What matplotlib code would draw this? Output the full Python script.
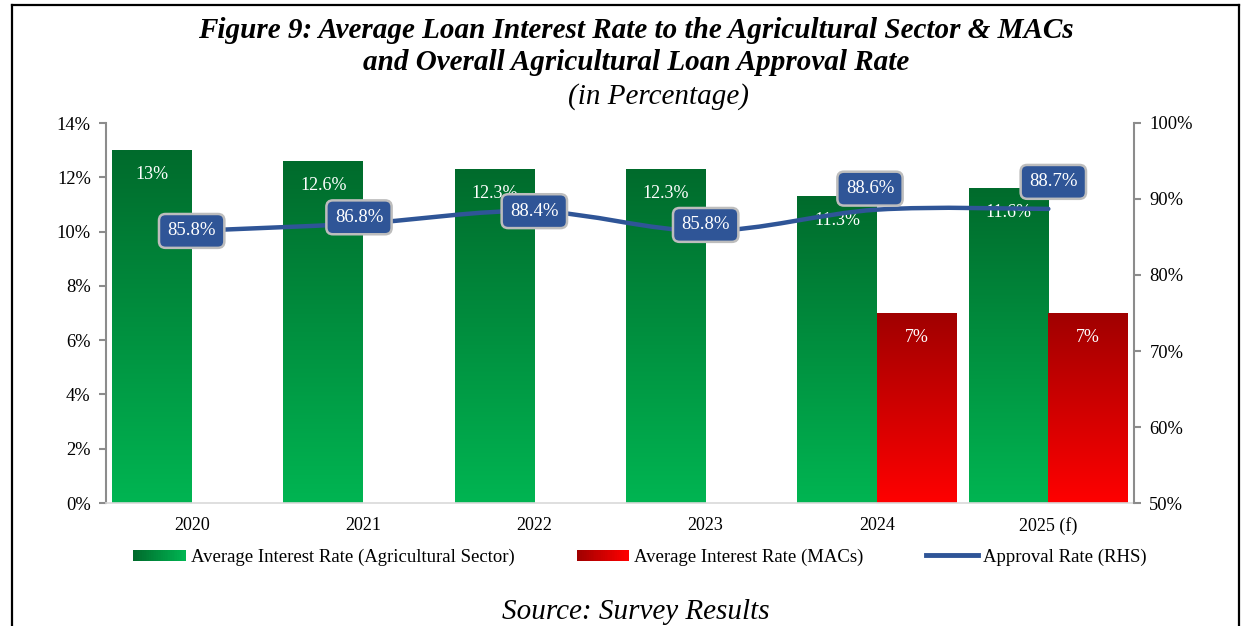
import numpy as np
import matplotlib
matplotlib.use("Agg")
import matplotlib.pyplot as plt
from matplotlib.path import Path
from matplotlib.patches import PathPatch, Rectangle
from matplotlib.lines import Line2D
from matplotlib.legend_handler import HandlerBase
from matplotlib.colors import LinearSegmentedColormap
import matplotlib.ticker as mticker

# ---------------- data ----------------
categories = ["2020", "2021", "2022", "2023", "2024", "2025 (f)"]
agri_rate = [13.0, 12.6, 12.3, 12.3, 11.3, 11.6]
agri_labels = ["13%", "12.6%", "12.3%", "12.3%", "11.3%", "11.6%"]
macs_rate = [None, None, None, None, 7.0, 7.0]
macs_labels = [None, None, None, None, "7%", "7%"]
approval = [85.8, 86.8, 88.4, 85.8, 88.6, 88.7]
approval_labels = ["85.8%", "86.8%", "88.4%", "85.8%", "88.6%", "88.7%"]

left_ticks = [0, 2, 4, 6, 8, 10, 12, 14]
right_ticks = [50, 60, 70, 80, 90, 100]

# ---------------- style ----------------
FONT = "Liberation Serif"
plt.rcParams["font.family"] = FONT
GREEN_TOP, GREEN_BOT = "#006B2C", "#00B552"
RED_TOP, RED_BOT = "#A00000", "#FF0000"
BLUE = "#2F5597"
GRAY = "#8C8C8C"

green_cmap = LinearSegmentedColormap.from_list("g", [GREEN_BOT, GREEN_TOP])
red_cmap = LinearSegmentedColormap.from_list("r", [RED_BOT, RED_TOP])

fig = plt.figure(figsize=(12.5, 6.26), dpi=100)
ax = fig.add_axes([106 / 1250, 1 - 503 / 626, (1134 - 106) / 1250, (503 - 123) / 626])
ax2 = ax.twinx()

x = np.arange(len(categories))
w = 0.465
ax.set_xlim(-0.5, len(categories) - 0.5)
ax.set_ylim(0, 14)
ax2.set_ylim(50, 100)

grad = np.linspace(0, 1, 256).reshape(-1, 1)


def gradient_bar(xc, h, cmap):
    rect = Rectangle((xc - w / 2, 0), w, h, facecolor="none", edgecolor="none")
    ax.add_patch(rect)
    ax.imshow(grad, cmap=cmap, extent=[xc - w / 2, xc + w / 2, 0, h],
              origin="lower", aspect="auto", zorder=1, interpolation="bilinear")


for i, v in enumerate(agri_rate):
    xc = x[i] - w / 2
    gradient_bar(xc, v, green_cmap)
    ax.annotate(agri_labels[i], (xc, v), xytext=(0, -24), textcoords="offset pixels",
                ha="center", va="center", color="white", fontsize=13, zorder=3)

for i, v in enumerate(macs_rate):
    if v is None:
        continue
    xc = x[i] + w / 2
    gradient_bar(xc, v, red_cmap)
    ax.annotate(macs_labels[i], (xc, v), xytext=(0, -24), textcoords="offset pixels",
                ha="center", va="center", color="white", fontsize=13, zorder=3)

ax.set_xlim(-0.5, len(categories) - 0.5)
ax.set_ylim(0, 14)

# smoothed line (Bezier, Catmull-Rom style control points in data space of ax2)
pts = np.column_stack([x, approval]).astype(float)
verts = [tuple(pts[0])]
codes = [Path.MOVETO]
n = len(pts)
for i in range(n - 1):
    p0 = pts[i - 1] if i > 0 else pts[i]
    p1 = pts[i]
    p2 = pts[i + 1]
    p3 = pts[i + 2] if i + 2 < n else pts[i + 1]
    c1 = p1 + (p2 - p0) / 6
    c2 = p2 - (p3 - p1) / 6
    verts += [tuple(c1), tuple(c2), tuple(p2)]
    codes += [Path.CURVE4] * 3
ax2.add_patch(PathPatch(Path(verts, codes), facecolor="none", edgecolor=BLUE,
                        lw=3.2, capstyle="round", zorder=4))

label_dx = [0, -4, 0, 0, -7, 5]
label_dy = [0, 6, 0, 6, 21, 27]
for i, v in enumerate(approval):
    ax2.annotate(approval_labels[i], (x[i], v), xytext=(label_dx[i], label_dy[i]),
                 textcoords="offset pixels", ha="center", va="center", color="white",
                 fontsize=13.5, zorder=6,
                 bbox=dict(boxstyle="round,pad=0.45,rounding_size=0.35", fc=BLUE,
                           ec="#BDBDBD", lw=1.8))

# axes styling
ax.set_xticks(x)
ax.set_xticklabels(categories, fontsize=13)
ax.tick_params(axis="x", length=0, pad=10)
ax.set_yticks(left_ticks)
ax.yaxis.set_major_formatter(mticker.FuncFormatter(lambda v, p: f"{v:.0f}%"))
ax.tick_params(axis="y", labelsize=13.3, color=GRAY, length=5, width=1.5, pad=6)
ax2.set_yticks(right_ticks)
ax2.yaxis.set_major_formatter(mticker.FuncFormatter(lambda v, p: f"{v:.0f}%"))
ax2.tick_params(axis="y", labelsize=13.3, color=GRAY, length=5, width=1.5, pad=6)

for a in (ax, ax2):
    a.spines["top"].set_visible(False)
    a.spines["left"].set_color(GRAY)
    a.spines["right"].set_color(GRAY)
    a.spines["left"].set_linewidth(1.5)
    a.spines["right"].set_linewidth(1.5)
    a.spines["bottom"].set_color("#D9D9D9")
    a.spines["bottom"].set_linewidth(1.2)
ax.spines["right"].set_visible(False)
ax2.spines["left"].set_visible(False)
ax2.spines["bottom"].set_visible(False)


# legend with gradient patches
class GradientHandler(HandlerBase):
    def __init__(self, c0, c1):
        super().__init__()
        self.c0, self.c1 = c0, c1

    def create_artists(self, legend, orig_handle, xdescent, ydescent, width, height, fontsize, trans):
        cmap = LinearSegmentedColormap.from_list("l", [self.c0, self.c1])
        k = 30
        arts = []
        for j in range(k):
            r = Rectangle((-xdescent + width * j / k, -ydescent + height * 0.1),
                          width / k * 1.05, height * 0.8,
                          facecolor=cmap(j / (k - 1)), edgecolor="none", transform=trans)
            arts.append(r)
        return arts


h_green = Rectangle((0, 0), 1, 1)
h_red = Rectangle((0, 0), 1, 1)
h_line = Line2D([], [], color=BLUE, lw=3.5)
leg = fig.legend([h_green, h_red, h_line],
                 ["Average Interest Rate (Agricultural Sector)", "Average Interest Rate (MACs)",
                  "Approval Rate (RHS)"],
                 handler_map={h_green: GradientHandler(GREEN_TOP, GREEN_BOT),
                              h_red: GradientHandler(RED_TOP, RED_BOT)},
                 loc="center", bbox_to_anchor=(640 / 1250, 1 - 557 / 626), ncol=3,
                 frameon=False, fontsize=13.5, handlelength=2.8, handletextpad=0.25,
                 columnspacing=3.33, handleheight=0.8)

# titles
fig.text(636 / 1250, 1 - 30 / 626,
         "Figure 9: Average Loan Interest Rate to the Agricultural Sector & MACs",
         ha="center", va="center", fontsize=21, fontweight="bold", style="italic")
fig.text(636 / 1250, 1 - 62 / 626, "and Overall Agricultural Loan Approval Rate",
         ha="center", va="center", fontsize=21, fontweight="bold", style="italic")
fig.text(658 / 1250, 1 - 97 / 626, "(in Percentage)",
         ha="center", va="center", fontsize=21, style="italic")
fig.text(636 / 1250, 1 - 612 / 626, "Source: Survey Results",
         ha="center", va="center", fontsize=21, style="italic")

# outer frame
fig.add_artist(Line2D([12 / 1250, 12 / 1250], [0, 1 - 5 / 626], transform=fig.transFigure,
                      color="black", lw=1.6))
fig.add_artist(Line2D([1239 / 1250, 1239 / 1250], [0, 1 - 5 / 626], transform=fig.transFigure,
                      color="black", lw=1.6))
fig.add_artist(Line2D([12 / 1250, 1239 / 1250], [1 - 5 / 626, 1 - 5 / 626],
                      transform=fig.transFigure, color="black", lw=1.6))

fig.savefig("out.png", dpi=100)
